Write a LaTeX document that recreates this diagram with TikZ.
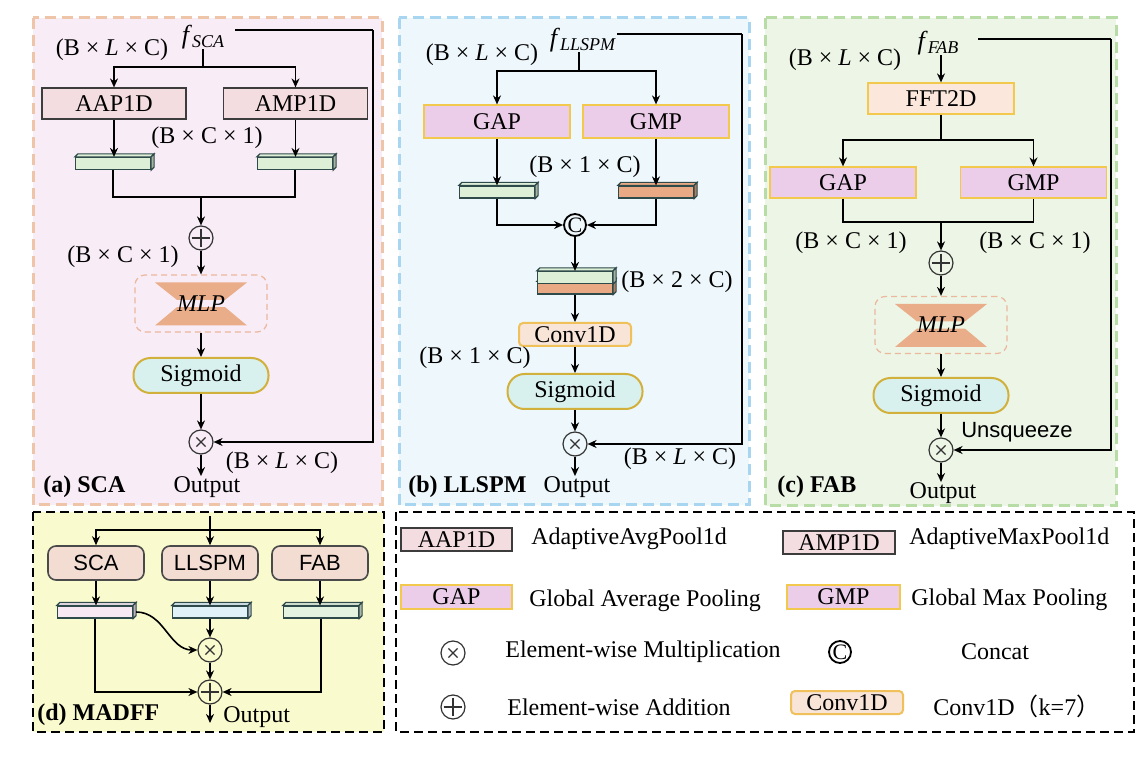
\documentclass[tikz,border=0pt]{standalone}
\usepackage{fontspec}
\setmainfont{Liberation Serif}
\setsansfont{Liberation Sans}
\newfontfamily\cjk{Noto Sans CJK SC}
\usetikzlibrary{arrows.meta,calc}

\definecolor{scafill}{HTML}{F8ECF6}
\definecolor{scaline}{HTML}{EEC5A8}
\definecolor{llfill}{HTML}{EEF7FB}
\definecolor{llline}{HTML}{A8D5F0}
\definecolor{fabfill}{HTML}{EDF6E6}
\definecolor{fabline}{HTML}{B8DCA5}
\definecolor{madfill}{HTML}{FAFACF}
\definecolor{aapfill}{HTML}{F4DDE0}
\definecolor{poolline}{HTML}{3C3C3C}
\definecolor{gapfill}{HTML}{EBCDEA}
\definecolor{gapline}{HTML}{F2C94C}
\definecolor{fftfill}{HTML}{FBE7DB}
\definecolor{convfill}{HTML}{F9E5D8}
\definecolor{convline}{HTML}{F0C05A}
\definecolor{sigfill}{HTML}{D8F1EF}
\definecolor{sigline}{HTML}{D2B03C}
\definecolor{mlpfill}{HTML}{E9AD8A}
\definecolor{mlpline}{HTML}{EBB79D}
\definecolor{bargreen}{HTML}{DDEFD7}
\definecolor{barorange}{HTML}{E8A984}
\definecolor{barline}{HTML}{2E4A4A}
\definecolor{madbox}{HTML}{F3DDD3}
\definecolor{madline}{HTML}{4A4A4A}
\definecolor{madbarA}{HTML}{F7E8F4}
\definecolor{madbarB}{HTML}{E1F1F8}
\definecolor{madbarC}{HTML}{E4F2E0}
\definecolor{opline}{HTML}{333333}

\tikzset{
  arr/.style={-{Stealth[length=4.5pt,width=4pt]}, line width=0.8pt},
  ln/.style={line width=0.8pt},
  panel/.style={line width=1.5pt, dash pattern=on 5.5pt off 3pt},
  blackpanel/.style={line width=0.9pt, dash pattern=on 4.5pt off 2.5pt},
  lbl/.style={inner sep=0pt, font=\fontsize{12}{14}\selectfont},
  poolbox/.style={rectangle, draw, line width=0.6pt, inner sep=0pt,
    minimum width=72pt, minimum height=15.5pt, font=\fontsize{12}{14}\selectfont},
  convbox/.style={rectangle, rounded corners=2pt, draw=convline, fill=convfill,
    line width=1pt, inner sep=0pt, minimum width=56pt, minimum height=11.5pt,
    font=\fontsize{12}{14}\selectfont},
  sigbox/.style={rectangle, rounded corners=8.5pt, draw=sigline, fill=sigfill,
    line width=1pt, inner sep=0pt, minimum width=67.5pt, minimum height=17.5pt,
    font=\fontsize{12}{14}\selectfont},
  mlpbox/.style={rectangle, rounded corners=5pt, draw=mlpline,
    dash pattern=on 3pt off 2pt, line width=0.6pt, minimum width=66pt, minimum height=28.5pt},
  madbox/.style={rectangle, rounded corners=4pt, draw=madline, fill=madbox,
    line width=0.8pt, inner sep=0pt, minimum width=48pt, minimum height=17pt,
    font=\sffamily\fontsize{11}{13}\selectfont},
  opcirc/.style={circle, draw=opline, line width=0.6pt, minimum size=12pt, inner sep=0pt},
  oplus/.style={opcirc, path picture={
    \draw[opline, line width=0.6pt]
      ([yshift=-1.3pt]path picture bounding box.north) -- ([yshift=1.3pt]path picture bounding box.south)
      ([xshift=1.3pt]path picture bounding box.west) -- ([xshift=-1.3pt]path picture bounding box.east);}},
  otimes/.style={opcirc, path picture={
    \draw[opline, line width=0.6pt] (path picture bounding box.center)
      ++(-2.3pt,-2.3pt) -- ++(4.6pt,4.6pt) ++(0,-4.6pt) -- ++(-4.6pt,4.6pt);}},
  concat/.style={circle, draw, line width=0.9pt, minimum size=11pt, inner sep=0pt,
    font=\fontsize{11}{11}\selectfont},
  featbar/.style={rectangle, draw=barline, line width=0.6pt, inner sep=0pt,
    minimum width=37.5pt, minimum height=6pt},
}

% thin 3d feature bar
\def\featbar#1#2#3{
\node[featbar, fill=#3] (#1) at #2 {};
\draw[barline, line width=0.6pt, fill=#3] (#1.north west) -- ++(1.5pt,1.5pt)
  -- ([shift={(1.5pt,1.5pt)}]#1.north east) -- (#1.north east) -- cycle;
\draw[barline, line width=0.6pt, fill=#3!75!black] (#1.north east) -- ++(1.5pt,1.5pt)
  -- ([shift={(1.5pt,1.5pt)}]#1.south east) -- (#1.south east) -- cycle;
}
% hourglass inside an mlp box
\def\drawMLP#1{
\fill[mlpfill] ([shift={(-23pt,10.5pt)}]#1.center) -- ([shift={(23pt,10.5pt)}]#1.center)
  -- ([shift={(12pt,1.8pt)}]#1.center) -- ([shift={(-12pt,1.8pt)}]#1.center) -- cycle;
\fill[mlpfill] ([shift={(-12pt,-1.8pt)}]#1.center) -- ([shift={(12pt,-1.8pt)}]#1.center)
  -- ([shift={(23pt,-11pt)}]#1.center) -- ([shift={(-23pt,-11pt)}]#1.center) -- cycle;
\node[lbl] at (#1.center) {\textit{MLP}};
}
\def\fsub#1{{\fontsize{13}{14}\selectfont\textit{f}}\raisebox{-2.2pt}{\fontsize{9}{10}\selectfont\textit{#1}}}
\def\BLC{(B × \textit{L} × C)}
\def\BCone{(B × C × 1)}
\def\Bonec{(B × 1 × C)}

\begin{document}
\begin{tikzpicture}[x=0.5pt,y=-0.5pt]
\useasboundingbox (0,0) rectangle (1146,764);

% (a) SCA
\draw[panel, draw=scaline, fill=scafill] (33,18) rectangle (382,505);
\node[lbl] (fsca) at (203,37) {\fsub{SCA}};
\node[lbl] (dimA1) at (112,50) {\BLC};
\node[poolbox, fill=aapfill, draw=poolline] (aap) at (114,103.5) {AAP1D};
\node[poolbox, fill=aapfill, draw=poolline] (amp) at (295.5,103.5) {AMP1D};
\node[lbl] (dimA2) at (207,138) {\BCone};
\featbar{barA1}{(113,163.5)}{bargreen}
\featbar{barA2}{(295,163.5)}{bargreen}
\node[oplus] (addA) at (201,238) {};
\node[lbl] (dimA3) at (123,257) {\BCone};
\node[mlpbox] (mlpA) at (201,303.5) {};
\drawMLP{mlpA}
\node[sigbox] (sigA) at (201,375.5) {Sigmoid};
\node[otimes] (mulA) at (201,442) {};
\node[lbl] (outA) at (207,487) {Output};
\node[lbl] (dimA4) at (282,463) {\BLC};
\node[lbl, anchor=west] (capA) at (43,487) {\textbf{(a) SCA}};
\coordinate (scaR0) at (235,30);
\coordinate (scaR) at (373,30);
\coordinate (scaS) at (203,67);
\coordinate (scaJ) at (201,197);
\draw[ln] (scaR0) -- (scaR);
\draw[arr] (scaR) |- (mulA.east);
\draw[ln] (fsca.south -| scaS) -- (scaS);
\draw[arr] (scaS) -| (aap.north);
\draw[arr] (scaS) -| (amp.north);
\draw[arr] (aap.south) -- (aap.south |- barA1.north);
\draw[arr] (amp.south) -- (amp.south |- barA2.north);
\draw[ln] (barA1.south) |- (scaJ) -| (barA2.south);
\draw[arr] (scaJ) -- (addA.north);
\draw[arr] (addA.south) -- (mlpA.north);
\draw[arr] (mlpA.south) -- (sigA.north);
\draw[arr] (sigA.south) -- (mulA.north);
\draw[arr] (mulA.south) -- (mulA.south |- outA.north);

% (b) LLSPM
\draw[panel, draw=llline, fill=llfill] (399,18) rectangle (749,505);
\node[lbl] (fll) at (583,40) {\fsub{LLSPM}};
\node[lbl] (dimB1) at (482,55) {\BLC};
\node[poolbox, fill=gapfill, draw=gapline, minimum width=73pt, minimum height=16.5pt] (gapB) at (497,121.5) {GAP};
\node[poolbox, fill=gapfill, draw=gapline, minimum width=73pt, minimum height=16.5pt] (gmpB) at (656,121.5) {GMP};
\node[lbl] (dimB2) at (585,167) {\Bonec};
\featbar{barB1}{(497,192)}{bargreen}
\featbar{barB2}{(656,192)}{barorange}
\node[concat] (catB) at (575,225) {C};
\featbar{stkB2}{(575,288)}{barorange}
\featbar{stkB1}{(575,277.5)}{bargreen}
\node[lbl] (dimB3) at (677,282) {(B × 2 × C)};
\node[convbox] (convB) at (575,334.5) {Conv1D};
\node[lbl] (dimB4) at (475,358) {\Bonec};
\node[sigbox] (sigB) at (575,391.5) {Sigmoid};
\node[otimes] (mulB) at (575,444) {};
\node[lbl] (outB) at (577,487) {Output};
\node[lbl] (dimB5) at (680,459) {\BLC};
\node[lbl, anchor=west] (capB) at (408,487) {\textbf{(b) LLSPM}};
\coordinate (llR0) at (617,34);
\coordinate (llR) at (742,34);
\coordinate (llS) at (579,71);
\draw[ln] (llR0) -- (llR);
\draw[arr] (llR) |- (mulB.east);
\draw[ln] (fll.south -| llS) -- (llS);
\draw[arr] (llS) -| (gapB.north);
\draw[arr] (llS) -| (gmpB.north);
\draw[arr] (gapB.south) -- (barB1.north);
\draw[arr] (gmpB.south) -- (barB2.north);
\draw[arr] (barB1.south) |- (catB.west);
\draw[arr] (barB2.south) |- (catB.east);
\draw[arr] (catB.south) -- (stkB1.north);
\draw[arr] (stkB2.south) -- (convB.north);
\draw[arr] (convB.south) -- (sigB.north);
\draw[arr] (sigB.south) -- (mulB.north);
\draw[arr] (mulB.south) -- (mulB.south |- outB.north);

% (c) FAB
\draw[panel, draw=fabline, fill=fabfill] (765,18) rectangle (1116,506);
\node[lbl] (ffab) at (938,43) {\fsub{FAB}};
\node[lbl] (dimC1) at (845,60) {\BLC};
\node[poolbox, fill=fftfill, draw=gapline, minimum width=73pt] (fft) at (941,98.5) {FFT2D};
\node[poolbox, fill=gapfill, draw=gapline, minimum width=73pt] (gapC) at (843,182.5) {GAP};
\node[poolbox, fill=gapfill, draw=gapline, minimum width=73pt] (gmpC) at (1033.5,182.5) {GMP};
\node[lbl] (dimC2) at (851,243) {\BCone};
\node[lbl] (dimC3) at (1035,243) {\BCone};
\node[oplus] (addC) at (941,263) {};
\node[mlpbox] (mlpC) at (941,325) {};
\drawMLP{mlpC}
\node[sigbox] (sigC) at (941,395.5) {Sigmoid};
\node[otimes] (mulC) at (941,450) {};
\node[lbl, font=\sffamily\fontsize{11}{13}\selectfont] (unsq) at (1017,432) {Unsqueeze};
\node[lbl] (outC) at (943,493) {Output};
\node[lbl, anchor=west] (capC) at (777,487) {\textbf{(c) FAB}};
\coordinate (fabR0) at (978,39);
\coordinate (fabR) at (1111,39);
\coordinate (fabS) at (941,140);
\coordinate (fabJ) at (941,222);
\draw[ln] (fabR0) -- (fabR);
\draw[arr] (fabR) |- (mulC.east);
\draw[arr] (ffab.south -| fft.north) -- (fft.north);
\draw[ln] (fft.south) -- (fabS);
\draw[arr] (fabS) -| (gapC.north);
\draw[arr] (fabS) -| (gmpC.north);
\draw[ln] (gapC.south) |- (fabJ) -| (gmpC.south);
\draw[arr] (fabJ) -- (addC.north);
\draw[arr] (addC.south) -- (mlpC.north);
\draw[arr] (mlpC.south) -- (sigC.north);
\draw[arr] (sigC.south) -- (mulC.north);
\draw[arr] (mulC.south) -- (mulC.south |- outC.north);

% (d) MADFF
\draw[blackpanel, fill=madfill] (33,512) rectangle (384,732);
\node[madbox] (scaBox) at (96,563) {SCA};
\node[madbox] (llBox) at (210,563) {LLSPM};
\node[madbox] (fabBox) at (320,563) {FAB};
\featbar{madA}{(95,612)}{madbarA}
\featbar{madB}{(210,612)}{madbarB}
\featbar{madC}{(321,612)}{madbarC}
\node[otimes] (mulD) at (210,650) {};
\node[oplus] (addD) at (210,692) {};
\node[lbl, anchor=west] (outD) at (223,717) {Output};
\node[lbl, anchor=west] (capD) at (37,715) {\textbf{(d) MADFF}};
\coordinate (mdIn) at (210,516);
\coordinate (mdS) at (210,530);
\coordinate (mdOut) at (210,723);
\draw[arr] (mdIn) -- (llBox.north);
\draw[arr] (mdS) -| (scaBox.north);
\draw[arr] (mdS) -| (fabBox.north);
\draw[arr] (scaBox.south) -- (scaBox.south |- madA.north);
\draw[arr] (llBox.south) -- (madB.north);
\draw[arr] (fabBox.south) -- (fabBox.south |- madC.north);
\draw[arr] ([xshift=1.5pt]madA.east) to[out=0, in=180] (mulD.west);
\draw[arr] (madB.south) -- (mulD.north);
\draw[arr] (mulD.south) -- (addD.north);
\draw[arr] (madA.south) |- (addD.west);
\draw[arr] (madC.south) |- (addD.east);
\draw[arr] (addD.south) -- (mdOut);

% legend
\draw[blackpanel, fill=white] (396,512) rectangle (1134,732);
\node[poolbox, fill=aapfill, draw=poolline, minimum width=55.5pt, minimum height=11.5pt] (legAap) at (456.5,539.5) {AAP1D};
\node[lbl, anchor=west] (txtAap) at (531,539) {AdaptiveAvgPool1d};
\node[poolbox, fill=aapfill, draw=poolline, minimum width=56pt, minimum height=11.5pt] (legAmp) at (839,542.5) {AMP1D};
\node[lbl, anchor=west] (txtAmp) at (909,539) {AdaptiveMaxPool1d};
\node[poolbox, fill=gapfill, draw=gapline, minimum width=55.5pt, minimum height=12pt] (legGap) at (456.5,597) {GAP};
\node[lbl, anchor=west] (txtGap) at (529,601) {Global Average Pooling};
\node[poolbox, fill=gapfill, draw=gapline, minimum width=56.5pt, minimum height=12pt] (legGmp) at (843.5,597) {GMP};
\node[lbl, anchor=west] (txtGmp) at (911,600) {Global Max Pooling};
\node[otimes] (legMul) at (453,653) {};
\node[lbl, anchor=west] (txtMul) at (505,652) {Element-wise Multiplication};
\node[concat] (legCat) at (840,652) {C};
\node[lbl] (txtCat) at (995,652) {Concat};
\node[oplus] (legAdd) at (453,707) {};
\node[lbl, anchor=west] (txtAdd) at (507,707) {Element-wise Addition};
\node[convbox] (legConv) at (847,702.5) {Conv1D};
\node[lbl, anchor=west] (txtConv) at (933,706) {Conv1D{\cjk （}k=7{\cjk ）}};
\end{tikzpicture}
\end{document}
